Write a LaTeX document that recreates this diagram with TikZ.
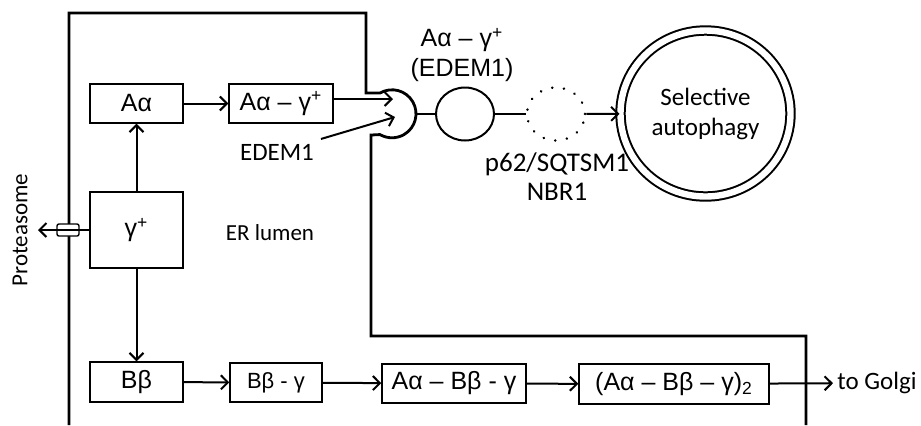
\documentclass[tikz,border=0pt]{standalone}
\usepackage{fontspec}
\setmainfont{Carlito}
\newfontfamily\arialfont{Liberation Sans}
\usetikzlibrary{shapes.geometric, arrows.meta}
\newcommand{\fs}[2]{\fontsize{#1}{#2}\selectfont}

\begin{document}
\begin{tikzpicture}[x = 0.5pt, y = 0.5pt, >={Straight Barb[length = 3.5pt, width = 7pt]},
  box/.style = {draw, line width = 0.7pt, inner sep = 0pt, minimum height = 19.5pt, font = \arialfont\fs{12.5}{14}},
  wall/.style = {line width = 1.4pt},
  flow/.style = {->, line width = 1pt},
  ring/.style = {draw, ellipse, line width = 1pt, inner sep = 0pt}]
\useasboundingbox (0,0) rectangle (921,-425);
% ER membrane with the receptor cup
\draw[wall] (69,-425) -- (69,-13) -- (366,-13) -- (366,-93) -- (380,-93)
  arc[start angle = 120, end angle = -120, radius = 24] -- (371,-135)
  -- (371,-336) -- (806,-336) -- (806,-425);
\coordinate (cupin) at (393,-99);
\coordinate (edin) at (395,-117);
\coordinate (cupout) at (416,-114);
\coordinate (prot) at (38,-230);
% lumen boxes
\node[box, minimum width = 46.5pt] (aa) at (136.5,-103.5) {Aα};
\node[box, minimum width = 52pt] (aag) at (281,-103.5) {Aα – γ\textsuperscript{+}};
\node[box, minimum width = 46.5pt, minimum height = 38pt] (gp) at (136.5,-230) {γ\textsuperscript{+}};
\node[box, minimum width = 46.5pt, minimum height = 20pt] (bb) at (136.5,-382) {Bβ};
\node[box, minimum width = 46pt, font = \arialfont\fs{11}{12}] (bbg) at (276,-382.5) {Bβ - γ};
\node[box, minimum width = 72pt] (abg) at (454,-383.5) {Aα – Bβ - γ};
\node[box, minimum width = 95pt, minimum height = 20pt] (dimer) at (674,-384) {(Aα – Bβ – γ)\textsubscript{2}};
\node[font = \fs{12.5}{14}, anchor = west, inner sep = 2pt] (golgi) at (833,-383) {to Golgi};
\node[font = \fs{11.5}{13}] (lumen) at (270,-233) {ER lumen};
\node[font = \fs{12.5}{14}] (edem) at (277,-152) {EDEM1};
\node[font = \fs{11.5}{13}, rotate = 90] (proteasome) at (20,-230) {Proteasome};
\node[draw, fill = white, rounded corners = 1pt, line width = 0.7pt, minimum width = 11pt, minimum height = 6pt, inner sep = 0pt] (pore) at (68,-230) {};
% cytosol side
\node[ring, minimum width = 29pt, minimum height = 26.5pt] (rcp) at (465,-114) {};
\node[ring, dash pattern = on 0.1pt off 5.8pt, line cap = round, line width = 1.3pt, minimum width = 29pt, minimum height = 26.5pt] (p62) at (556,-114) {};
\node[ring, double, double distance = 3.2pt, minimum width = 85pt, minimum height = 83pt, align = center, font = \fs{12.5}{15}] (auto) at (705.5,-113.5) {Selective\\autophagy};
\node[align = center, font = \arialfont\fs{12.5}{15}] (cargo) at (462,-55) {Aα – γ\textsuperscript{+}\\(EDEM1)};
\node[align = center, font = \fs{13.5}{14.5}] (adapt) at (557,-177) {p62/SQTSM1\\NBR1};
% arrows
\draw[flow] (aa) -- (aag);
\draw[flow] (gp) -- (aa);
\draw[flow] (gp) -- (bb);
\draw[flow] (gp) -- (prot);
\draw[flow] (aag.east |- cupin) -- (cupin);
\draw[flow] (edem) -- (edin);
\draw[flow] (bb) -- (bbg);
\draw[flow] (bbg) -- (abg);
\draw[flow] (abg) -- (dimer);
\draw[flow] (dimer) -- (golgi);
\draw[line width = 1pt] (cupout) -- (rcp);
\draw[line width = 1pt] (rcp) -- (p62);
\draw[flow] (p62) -- (auto);
\end{tikzpicture}
\end{document}
